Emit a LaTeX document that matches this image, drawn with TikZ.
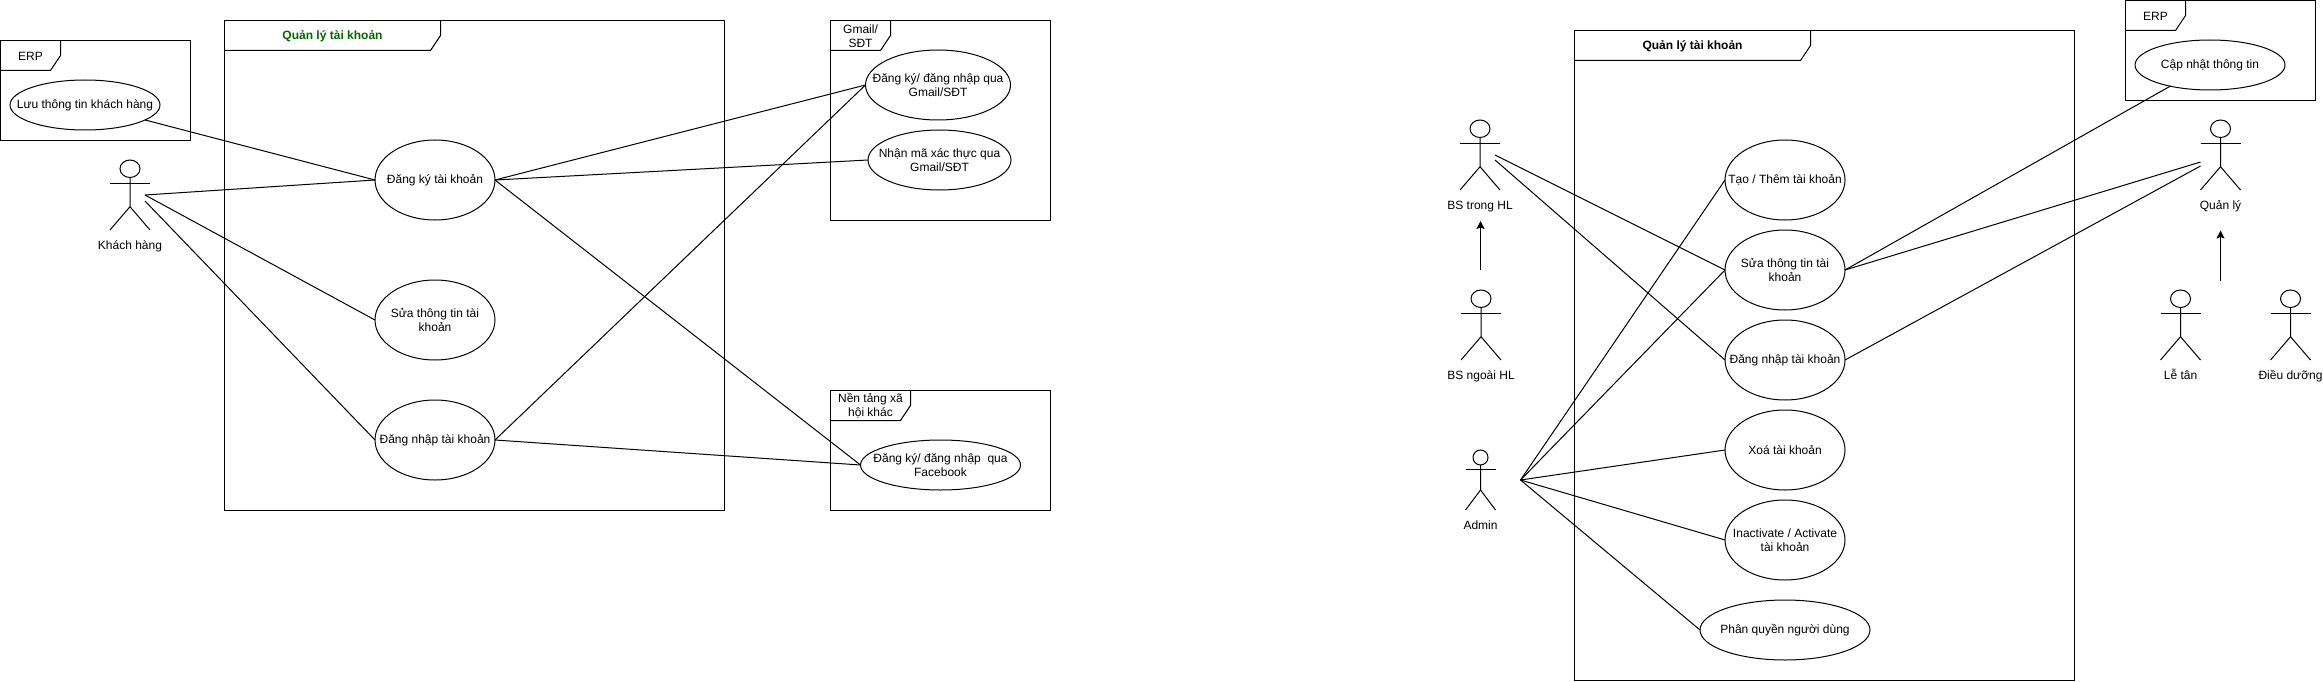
\documentclass[tikz,border=0pt]{standalone}
\usepackage{fontspec}
\setmainfont{Liberation Sans}
\usepackage{xcolor}
\usetikzlibrary{arrows.meta, calc, shapes.geometric}
\definecolor{titlegreen}{HTML}{006600}

\newcommand{\umlframe}[8]{%
  \node[framebox, minimum width=#4pt, minimum height=#5pt] (#1) at (#2,#3) {};
  \draw[umlline] ($(#1.north west)+(#6,0)$) -- +(0,15) -- +(-10,30) -- ($(#1.north west)+(0,30)$);
  \node[#8] (#1title) at ($(#1.north west)+(#6/2,15.5)$) {#7};
}
\newcommand{\umlactor}[6]{%
  \node[actorbox, minimum width=#4pt, minimum height=#5pt] (#1) at (#2,#3) {};
  \draw[umlline] ($(#1.north)+(0,#5/8)$) ellipse [x radius=#4/4, y radius=#5/8];
  \draw[umlline] ($(#1.north)!0.25!(#1.south)$) -- ($(#1.north)!0.667!(#1.south)$) -- (#1.south west);
  \draw[umlline] ($(#1.north)!0.667!(#1.south)$) -- (#1.south east);
  \draw[umlline] ($(#1.north west)!0.333!(#1.south west)$) -- ($(#1.north east)!0.333!(#1.south east)$);
  \node[plaintext, text height=9pt, text depth=3pt] (#1label) at ($(#1.south)+(0,16)$) {#6};
}

\begin{document}
\begin{tikzpicture}[x=1pt, y=-1pt, >={Stealth[length=8pt, width=8pt, inset=1.5pt]},
  every node/.style={font=\fontsize{12pt}{14.4pt}\selectfont},
  umlline/.style={line width=1pt, black},
  framebox/.style={draw, line width=1pt, anchor=north west, inner sep=0pt, outer sep=0pt},
  actorbox/.style={inner sep=0pt, outer sep=0pt},
  plaintext/.style={align=center, inner sep=0pt},
  boldtitle/.style={plaintext, font=\fontsize{12pt}{14.4pt}\selectfont\bfseries},
  greentitle/.style={boldtitle, text=titlegreen},
  usecase/.style={draw, ellipse, line width=1pt, align=center, inner xsep=-45pt, inner ysep=0pt, outer sep=0pt, minimum width=120pt, minimum height=80pt}]
  \useasboundingbox (0,0) rectangle (2323,682);

  % left diagram
  \umlframe{erpleft}{0.5}{40.5}{190}{100}{60}{ERP}{plaintext}
  \umlframe{mainleft}{224.5}{20.5}{500}{490}{216}{Quản lý tài khoản}{greentitle}
  \umlframe{gmail}{830.5}{20.5}{220}{200}{60}{Gmail/\\SĐT}{plaintext}
  \umlframe{social}{830.5}{390.5}{220}{120}{80}{Nền tảng xã\\hội khác}{plaintext}

  \node[usecase, minimum width=150pt, minimum height=50pt] (luu) at (85,105) {Lưu thông tin khách hàng};
  \node[usecase] (dangky) at (435,180) {Đăng ký tài khoản};
  \node[usecase] (sualeft) at (435,320) {Sửa thông tin tài\\khoản};
  \node[usecase] (dangnhapleft) at (435,440) {Đăng nhập tài khoản};
  \node[usecase, minimum width=145pt, minimum height=70pt] (quagmail) at (938,85) {Đăng ký/ đăng nhập qua\\Gmail/SĐT};
  \node[usecase, minimum width=143pt, minimum height=60pt] (nhanma) at (939.5,160) {Nhận mã xác thực qua\\Gmail/SĐT};
  \node[usecase, minimum width=160pt, minimum height=50pt] (facebook) at (940.5,465) {Đăng ký/ đăng nhập\ \ qua\\Facebook};

  \umlactor{khach}{130}{195}{40}{70}{Khách hàng}

  \draw[umlline] (luu.-14) -- (dangky.west);
  \draw[umlline] ($(khach.center)+(15,0)$) -- (dangky.west);
  \draw[umlline] ($(khach.center)+(15,0)$) -- (sualeft.west);
  \draw[umlline] ($(khach.center)+(15,6)$) -- (dangnhapleft.west);
  \draw[umlline] (dangky.east) -- (quagmail.west);
  \draw[umlline] (dangky.east) -- (nhanma.west);
  \draw[umlline] (dangky.east) -- (facebook.west);
  \draw[umlline] (dangnhapleft.east) -- (quagmail.west);
  \draw[umlline] (dangnhapleft.east) -- (facebook.west);

  % right diagram
  \umlframe{mainright}{1574.5}{30.5}{500}{650}{236}{Quản lý tài khoản}{boldtitle}
  \umlframe{erpright}{2125.5}{0.5}{190}{100}{60}{ERP}{plaintext}

  \node[usecase, minimum width=150pt, minimum height=50pt] (capnhat) at (2210,65) {Cập nhật thông tin};
  \node[usecase] (tao) at (1785,180) {Tạo / Thêm tài khoản};
  \node[usecase] (suaright) at (1785,270) {Sửa thông tin tài\\khoản};
  \node[usecase] (dangnhapright) at (1785,360) {Đăng nhập tài khoản};
  \node[usecase] (xoa) at (1785,450) {Xoá tài khoản};
  \node[usecase] (inactivate) at (1785,540) {Inactivate / Activate\\tài khoản};
  \node[usecase, minimum width=170pt, minimum height=60pt] (phanquyen) at (1785,630) {Phân quyền người dùng};

  \umlactor{bstrong}{1480}{155}{40}{70}{BS trong HL}
  \umlactor{bsngoai}{1481}{325}{40}{70}{BS ngoài HL}
  \umlactor{admin}{1480.5}{480}{30}{60}{Admin}
  \umlactor{quanly}{2220.5}{155}{40}{70}{Quản lý}
  \umlactor{letan}{2180.5}{325}{40}{70}{Lễ tân}
  \umlactor{dieuduong}{2290.5}{325}{40}{70}{Điều dưỡng}

  \coordinate (adminout) at ($(admin.center)+(40,0)$);

  \draw[umlline] ($(bstrong.center)+(15,0)$) -- (suaright.west);
  \draw[umlline] ($(bstrong.center)+(15,5)$) -- (dangnhapright.west);
  \draw[umlline] (adminout) -- (tao.west);
  \draw[umlline] (adminout) -- (suaright.west);
  \draw[umlline] (adminout) -- (xoa.west);
  \draw[umlline] (adminout) -- (inactivate.west);
  \draw[umlline] (adminout) -- (phanquyen.west);
  \draw[umlline] (suaright.east) -- (capnhat.208);
  \draw[umlline] (suaright.east) -- ($(quanly.center)+(-20,7)$);
  \draw[umlline] (dangnhapright.east) -- ($(quanly.center)+(-20,11)$);

  \draw[umlline, ->] ($(bsngoai.north)+(-0.5,-20)$) -- ($(bstrong.south)+(0.5,31)$);
  \draw[umlline, ->] ($(letan.north)+(40,-9)$) -- ($(quanly.south)+(0,40.5)$);
\end{tikzpicture}
\end{document}
